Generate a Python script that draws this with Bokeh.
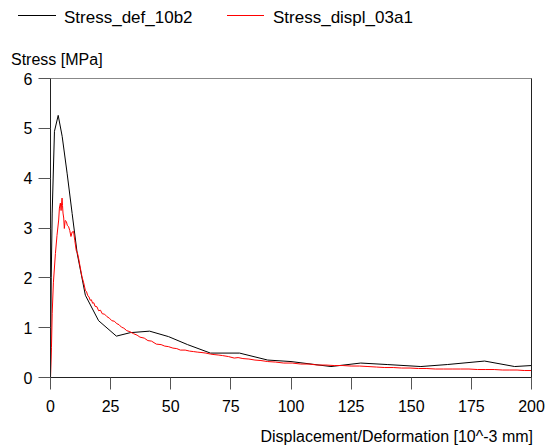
from bokeh.plotting import figure
from bokeh.models import Range1d, FixedTicker, Div, LinearAxis
from bokeh.layouts import column
from bokeh.embed import file_html
from bokeh.resources import INLINE

# Black series: Stress_def_10b2
def_x = [0, 0.3, 0.7, 1.65, 3.2, 4.85, 6.9, 9.0, 11.1, 14.5, 20.0, 27.4, 33.2, 41.2, 49.1,
         57.0, 66.5, 78.6, 90.3, 100.0, 116.6, 129.0, 140.0, 154.0, 165.0, 180.5, 193.0, 200.0]
def_y = [0, 2.0, 3.3, 4.94, 5.26, 4.84, 4.10, 3.29, 2.49, 1.65, 1.14, 0.83, 0.90, 0.93, 0.82,
         0.66, 0.49, 0.49, 0.35, 0.32, 0.22, 0.29, 0.26, 0.22, 0.26, 0.33, 0.22, 0.24]

# Red series: Stress_displ_03a1
displ_x = [0, 0.4, 0.7, 1.2, 2.05, 2.7, 3.4, 3.7, 4.1, 4.4, 4.8, 5.0, 5.2, 5.5, 5.75, 6.1,
           6.6, 7.0, 7.5, 8.0, 8.5, 9.0, 9.6, 10.1, 10.7, 11.2, 11.7, 12.4, 13.1, 13.8, 14.5,
           15.0, 15.5, 16.0, 16.5, 17.0, 17.5, 18.0, 18.5, 19.3, 20.0, 20.8, 21.5, 22.5, 23.5,
           24.5, 25.5, 26.5, 27.6, 28.5, 29.5, 30.5, 31.7, 33.0, 34.5, 36.0, 37.2, 39.0, 40.5,
           42.0, 44.0, 46.0, 47.5, 49.0, 50.9, 52.5, 54.0, 56.0, 57.8, 59.5, 61.0, 63.0, 64.6,
           66.5, 68.0, 70.0, 71.5, 74.0, 76.4, 78.0, 80.0, 82.5, 85.0, 87.5, 90.3, 93.5, 97.0,
           100.5, 104.0, 107.5, 111.0, 114.5, 118.0, 121.5, 125.0, 128.5, 132.0, 135.5, 139.0,
           142.5, 146.0, 149.5, 153.0, 156.5, 160.0, 163.5, 167.0, 170.5, 174.0, 177.5, 181.0,
           184.5, 188.0, 191.0, 194.0, 197.0, 200.0]
displ_y = [0, 0.6, 1.28, 1.9, 2.49, 2.85, 3.16, 3.40, 3.50, 3.35, 3.60, 3.45, 3.30, 3.20, 2.99, 3.15,
           3.13, 3.05, 3.03, 2.95, 2.83, 2.92, 2.93, 2.75, 2.55, 2.50, 2.39, 2.20, 2.02, 1.90, 1.75,
           1.72, 1.64, 1.62, 1.55, 1.56, 1.49, 1.50, 1.43, 1.42, 1.34, 1.35, 1.28, 1.27, 1.22,
           1.19, 1.14, 1.13, 1.08, 1.06, 1.01, 0.99, 0.94, 0.92, 0.88, 0.85, 0.81, 0.79, 0.74,
           0.73, 0.67, 0.66, 0.63, 0.62, 0.59, 0.58, 0.55, 0.55, 0.53, 0.52, 0.51, 0.50, 0.49,
           0.47, 0.46, 0.45, 0.44, 0.42, 0.39, 0.40, 0.38, 0.37, 0.35, 0.34, 0.32, 0.31, 0.29,
           0.29, 0.27, 0.27, 0.25, 0.25, 0.24, 0.24, 0.23, 0.23, 0.22, 0.21, 0.20,
           0.20, 0.19, 0.19, 0.18, 0.18, 0.17, 0.17, 0.17, 0.17, 0.17, 0.16, 0.16,
           0.16, 0.15, 0.15, 0.15, 0.14, 0.14]

x_ticks = [0, 25, 50, 75, 100, 125, 150, 175, 200]
y_ticks = [0, 1, 2, 3, 4, 5, 6]
series_names = ["Stress_def_10b2", "Stress_displ_03a1"]
series_colors = ["black", "red"]
y_label = "Stress [MPa]"
x_label = "Displacement/Deformation [10^-3 mm]"

FONT = "Liberation Sans"
FS = "16px"
TOP_H = 70
BOT_H = 25

ff = "font-family:'Liberation Sans',Arial,sans-serif;color:#000;white-space:nowrap;position:absolute;"

# ---- header: legend + y-axis label (HTML) ----
legend_pos = [(18, 38, 64), (227, 37, 273)]   # (line start, line length, text start)
parts = []
for (lx, lw, tx), name, col in zip(legend_pos, series_names, series_colors):
    parts.append(f"<div style='position:absolute;left:{lx}px;top:15px;width:{lw}px;"
                 f"height:0;border-top:1px solid {col};'></div>")
    parts.append(f"<span style=\"{ff}left:{tx}px;top:9px;font-size:17px;line-height:17px;\">{name}</span>")
parts.append(f"<span style=\"{ff}left:11px;top:52px;font-size:16px;line-height:16px;\">{y_label}</span>")
header = Div(text="<div style='position:relative;width:545px;height:%dpx;margin:0;padding:0;'>%s</div>"
             % (TOP_H, "".join(parts)), width=545, height=TOP_H, margin=0)

# ---- footer: x-axis label (HTML) ----
footer = Div(text="<div style='position:relative;width:545px;height:%dpx;margin:0;padding:0;'>"
             "<span style=\"%sright:12px;top:9px;font-size:16px;line-height:16px;\">%s</span></div>"
             % (BOT_H, ff, x_label), width=545, height=BOT_H, margin=0)

# ---- main chart ----
p = figure(width=545, height=445 - TOP_H - BOT_H, output_backend="svg", toolbar_location=None,
           x_range=Range1d(0, 200), y_range=Range1d(0, 6),
           min_border_left=50, min_border_right=14, min_border_top=78 - TOP_H,
           min_border_bottom=(445 - BOT_H) - 377, margin=0)
p.xgrid.visible = False
p.ygrid.visible = False
p.outline_line_color = "#888888"
p.outline_line_width = 1

for ax in (p.xaxis[0], p.yaxis[0]):
    ax.axis_line_color = "#222222"
    ax.major_tick_line_color = "#555555"
    ax.minor_tick_line_color = None
    ax.major_tick_in = 0
    ax.major_label_text_font = FONT
    ax.major_label_text_font_size = FS
    ax.major_label_text_color = "black"

p.xaxis.ticker = FixedTicker(ticks=x_ticks)
p.yaxis.ticker = FixedTicker(ticks=y_ticks)
p.xaxis.major_tick_out = 12
p.yaxis.major_tick_out = 12
p.xaxis.major_label_standoff = 10
p.yaxis.major_label_standoff = 6

# plain dark line on the right edge of the frame
right_axis = LinearAxis(ticker=FixedTicker(ticks=[]), axis_line_color="#222222",
                        major_tick_line_color=None, minor_tick_line_color=None,
                        major_label_text_font_size="0px")
p.add_layout(right_axis, "right")

p.line(def_x, def_y, line_color=series_colors[0], line_width=1)
p.line(displ_x, displ_y, line_color=series_colors[1], line_width=1)

layout = column(header, p, footer, spacing=0)
open("out.html", "w").write(file_html(layout, INLINE))
